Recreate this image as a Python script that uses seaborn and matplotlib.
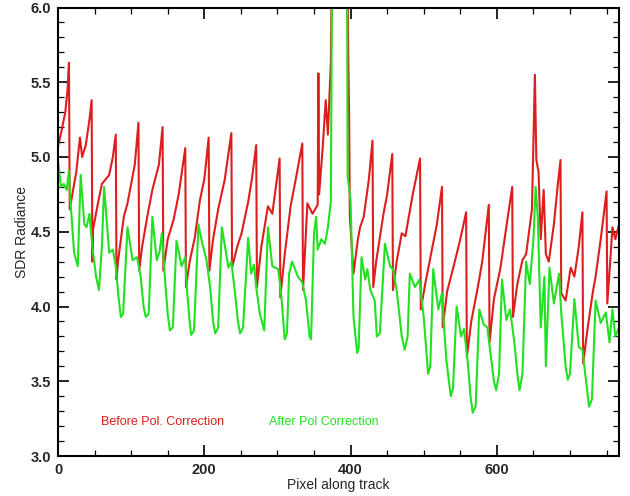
import matplotlib
matplotlib.use("Agg")
import matplotlib.pyplot as plt
import seaborn as sns
import pandas as pd
from matplotlib.ticker import MultipleLocator

# ---- data (pixel index, radiance) ----
red_x = [0, 5, 10, 13, 15, 16, 20, 25, 30, 33, 38, 43, 46, 47, 48,
         55, 60, 70, 75, 79, 80, 82, 90, 95, 105, 110, 111,
         115, 122, 129, 138, 143, 144, 150, 158, 165, 174, 175,
         180, 187, 194, 200, 206, 207, 212, 219, 228, 237, 238,
         245, 251, 260, 265, 271, 272, 278, 287, 293, 303, 304,
         310, 318, 325, 334, 335, 341, 348, 355, 356, 357, 362, 366, 369, 373, 375,
         395, 397, 398, 399, 404, 410, 413, 418, 425, 430, 431,
         435, 445, 450, 457, 458, 463, 470, 475, 485, 495, 496,
         502, 510, 518, 525, 526, 532, 542, 550, 558, 559,
         565, 574, 580, 589, 590, 596, 605, 612, 621, 622,
         628, 635, 640, 648, 652, 654, 657, 660, 664, 667, 671, 678, 683, 687, 688,
         694, 701, 706, 712, 717, 718, 724, 731, 735, 742, 750, 751, 755, 758, 762, 767]
red_y = [5.07, 5.18, 5.30, 5.45, 5.63, 4.65, 4.76, 4.90, 5.13, 5.00, 5.08, 5.25, 5.38, 4.30, 4.52,
         4.70, 4.82, 4.88, 5.00, 5.15, 4.18, 4.30, 4.60, 4.69, 4.95, 5.23, 4.24,
         4.40, 4.60, 4.78, 4.95, 5.20, 4.24, 4.45, 4.58, 4.75, 5.06, 4.13,
         4.30, 4.46, 4.71, 4.85, 5.13, 4.24, 4.45, 4.65, 4.85, 5.16, 4.26,
         4.40, 4.49, 4.70, 4.85, 5.08, 4.13, 4.40, 4.67, 4.62, 4.99, 4.06,
         4.35, 4.67, 4.85, 5.09, 4.11, 4.69, 4.62, 4.68, 5.56, 4.75, 5.07, 5.38, 5.15, 5.63, 6.50,
         6.50, 5.63, 5.29, 4.60, 4.22, 4.45, 4.53, 4.60, 4.85, 5.11, 4.13,
         4.30, 4.62, 4.75, 5.02, 4.11, 4.30, 4.49, 4.47, 4.75, 4.99, 3.98,
         4.15, 4.35, 4.55, 4.80, 3.86, 4.10, 4.29, 4.45, 4.63, 3.66,
         3.90, 4.13, 4.30, 4.68, 3.76, 4.05, 4.26, 4.50, 4.80, 3.93,
         4.15, 4.31, 4.35, 4.65, 5.55, 4.98, 4.90, 4.45, 4.78, 4.35, 4.30, 4.55, 4.80, 4.98, 4.09,
         4.04, 4.26, 4.20, 4.40, 4.63, 3.62, 3.85, 4.09, 4.20, 4.45, 4.77, 4.02, 4.30, 4.53, 4.45, 4.55]

green_x = [0, 4, 8, 12, 15, 17, 22, 27, 31, 36, 39, 43, 47, 52, 56, 60, 63,
           70, 75, 79, 83, 86, 89, 95, 102, 108, 113, 117, 120, 124,
           129, 135, 139, 142, 146, 150, 153, 157, 162, 169, 174, 176, 180, 182, 186,
           192, 196, 203, 208, 212, 215, 219, 224, 233, 237, 242, 246, 249, 253,
           260, 264, 268, 271, 276, 282, 287, 293, 301, 305, 310, 313,
           316, 320, 328, 334, 339, 344, 346, 350, 353, 355, 360, 365, 369, 373, 375,
           395, 396, 400, 404, 409, 411, 415, 420, 423, 427, 433, 436, 440,
           447, 454, 458, 463, 470, 474, 478, 481, 488, 494, 500, 506, 509,
           513, 520, 525, 528, 531, 537, 540, 545, 551, 555, 560, 564, 567, 571,
           576, 582, 587, 592, 596, 599, 603, 607, 613, 618, 624, 628, 631, 635,
           640, 645, 650, 653, 656, 660, 665, 667, 672, 678, 685, 688, 694, 697, 700,
           706, 712, 717, 722, 726, 730, 735, 742, 749, 754, 758, 762, 767]
green_y = [4.98, 4.80, 4.82, 4.78, 4.91, 4.71, 4.36, 4.27, 4.88, 4.55, 4.53, 4.62, 4.40, 4.20, 4.11, 4.40, 4.80,
           4.36, 4.38, 4.27, 4.05, 3.93, 3.95, 4.53, 4.31, 4.33, 4.20, 4.00, 3.93, 3.95,
           4.60, 4.31, 4.37, 4.49, 4.20, 3.95, 3.84, 3.86, 4.44, 4.27, 4.33, 4.13, 3.90, 3.81, 3.84,
           4.55, 4.45, 4.31, 4.13, 3.90, 3.82, 3.86, 4.53, 4.26, 4.30, 4.09, 3.90, 3.82, 3.86,
           4.46, 4.22, 4.28, 4.13, 3.95, 3.84, 4.53, 4.27, 4.25, 4.09, 3.78, 3.82,
           4.22, 4.30, 4.20, 4.16, 4.04, 3.80, 3.78, 4.49, 4.60, 4.38, 4.45, 4.42, 4.53, 4.70, 6.50,
           6.50, 4.87, 4.71, 3.93, 3.69, 3.72, 4.33, 4.18, 4.25, 4.11, 4.04, 3.80, 3.82,
           4.42, 4.27, 4.25, 4.11, 3.80, 3.71, 3.80, 4.22, 4.13, 4.18, 3.93, 3.55, 3.60,
           4.25, 3.98, 4.09, 3.85, 3.64, 3.40, 3.45, 4.00, 3.80, 3.85, 3.64, 3.40, 3.29, 3.33,
           3.98, 3.88, 3.86, 3.66, 3.50, 3.44, 3.55, 4.18, 3.91, 3.98, 3.76, 3.55, 3.44, 3.55,
           4.30, 4.15, 4.45, 4.80, 4.60, 3.86, 4.20, 3.60, 4.26, 4.02, 4.22, 3.96, 3.60, 3.51, 3.55,
           4.05, 3.73, 3.71, 3.50, 3.33, 3.38, 4.04, 3.89, 3.96, 3.76, 3.98, 3.80, 3.86]

series_labels = ["Before Pol. Correction", "After Pol Correction"]
x_ticks = [0, 200, 400, 600]
y_ticks = [3.0, 3.5, 4.0, 4.5, 5.0, 5.5, 6.0]

RED = "#dc1e1e"
GREEN = "#22e022"

sns.set_style("ticks")
plt.rcParams["font.family"] = ["Liberation Sans", "DejaVu Sans"]

fig = plt.figure(figsize=(6.3, 4.96), dpi=100)
ax = fig.add_axes([58 / 630, 1 - 456 / 496, (619 - 58) / 630, (456 - 7.5) / 496])

df_red = pd.DataFrame({"x": red_x, "y": red_y})
df_green = pd.DataFrame({"x": green_x, "y": green_y})
sns.lineplot(data=df_red, x="x", y="y", color=RED, linewidth=1.5, estimator=None, sort=False, ax=ax)
sns.lineplot(data=df_green, x="x", y="y", color=GREEN, linewidth=1.5, estimator=None, sort=False, ax=ax)

ax.set_xlim(0, 767)
ax.set_ylim(3.0, 6.0)
ax.set_xticks(x_ticks)
ax.set_yticks(y_ticks)
ax.set_yticklabels([f"{v:.1f}" for v in y_ticks])
ax.xaxis.set_minor_locator(MultipleLocator(50))
ax.yaxis.set_minor_locator(MultipleLocator(0.1))
ax.tick_params(which="both", direction="in", top=True, right=True, color="black")
ax.tick_params(which="major", length=8, width=1.2, labelsize=10.5, pad=5)
ax.tick_params(which="minor", length=4, width=0.9)
for lab in ax.get_xticklabels() + ax.get_yticklabels():
    lab.set_fontweight("bold")
for sp in ax.spines.values():
    sp.set_linewidth(1.5)
    sp.set_color("black")

ax.set_xlabel("Pixel along track", fontsize=10, labelpad=1)
ax.set_ylabel("SDR Radiance", fontsize=10, labelpad=1)

ax.text(58.7, 3.23, series_labels[0], color=RED, fontsize=9, va="center", ha="left")
ax.text(289, 3.23, series_labels[1], color=GREEN, fontsize=9, va="center", ha="left")

fig.savefig("out.png", dpi=100)
